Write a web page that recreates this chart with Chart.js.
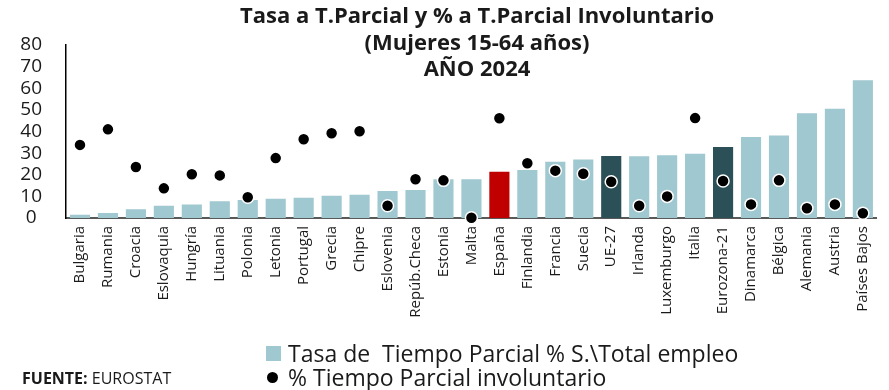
<!DOCTYPE html>
<html lang="es">
<head>
<meta charset="utf-8">
<title>Tasa a T.Parcial y % a T.Parcial Involuntario</title>
<script src="https://cdn.jsdelivr.net/npm/chart.js@4/dist/chart.umd.min.js"></script>
<style>
  html, body { margin: 0; padding: 0; background: #fff; }
  #wrap { position: relative; width: 889px; height: 390px; overflow: hidden; font-family: "Open Sans", sans-serif; color: #1a1a1a; }
  #chart { position: absolute; left: 0; top: 0; }
  #titulo { position: absolute; left: 477px; top: 1px; transform: translateX(-50%); text-align: center; font-weight: 700; font-size: 22px; line-height: 26.5px; white-space: nowrap; }
  #leyenda { position: absolute; left: 266px; top: 341px; font-size: 23px; line-height: 24px; }
  #leyenda .fila { display: flex; align-items: center; white-space: pre; }
  #leyenda .caja { width: 15px; height: 15px; background: #9fc8d0; margin-right: 7px; }
  #leyenda .punto { width: 11px; height: 11px; border-radius: 50%; background: #000; margin: 0 10px 0 1px; }
  #fuente { position: absolute; left: 22px; top: 367px; font-size: 16px; white-space: nowrap; }
</style>
</head>
<body>
<div id="wrap">
  <canvas id="chart" width="889" height="340"></canvas>
  <div id="titulo">Tasa a T.Parcial y % a T.Parcial Involuntario<br>(Mujeres 15-64 años)<br>AÑO 2024</div>
  <div id="leyenda">
    <div class="fila"><span class="caja"></span><span>Tasa de  Tiempo Parcial % S.\Total empleo</span></div>
    <div class="fila"><span class="punto"></span><span>% Tiempo Parcial involuntario</span></div>
  </div>
  <div id="fuente"><b>FUENTE:</b> EUROSTAT</div>
</div>
<script>
// ====== datos ======
const paises = ["Bulgaria","Rumania","Croacia","Eslovaquia","Hungría","Lituania","Polonia","Letonia","Portugal","Grecia",
  "Chipre","Eslovenia","Repúb.Checa","Estonia","Malta","España","Finlandia","Francia","Suecia","UE-27",
  "Irlanda","Luxemburgo","Italia","Eurozona-21","Dinamarca","Bélgica","Alemania","Austria","Países Bajos"];

// tasa de tiempo parcial (% sobre total empleo)
const tasaParcial = [1.5, 2.3, 4.0, 5.7, 6.2, 7.7, 8.3, 8.9, 9.4, 10.3,
  10.8, 12.5, 12.9, 17.9, 17.9, 21.4, 22.2, 26.0, 27.0, 28.7,
  28.5, 29.0, 29.7, 32.8, 37.5, 38.2, 48.4, 50.5, 63.7];

// % tiempo parcial involuntario
const involuntario = [33.8, 41.0, 23.6, 13.7, 20.2, 19.7, 9.6, 27.7, 36.4, 39.2,
  40.1, 5.7, 17.9, 17.4, 0.1, 46.1, 25.3, 21.9, 20.5, 16.8,
  5.7, 10.0, 46.2, 17.1, 6.3, 17.4, 4.5, 6.3, 2.2];

const yTicks = [0, 10, 20, 30, 40, 50, 60, 70, 80];

// ====== colores ======
const claro  = '#9fc8d0';
const oscuro = '#2c5058';
const rojo   = '#c00000';
const colorBarra = p => p === 'España' ? rojo : (p === 'UE-27' || p === 'Eurozona-21') ? oscuro : claro;

const ctx = document.getElementById('chart').getContext('2d');
new Chart(ctx, {
  type: 'bar',
  data: {
    labels: paises,
    datasets: [
      {
        type: 'line',
        label: '% Tiempo Parcial involuntario',
        data: involuntario,
        showLine: false,
        pointRadius: 6,
        pointHoverRadius: 6,
        pointBackgroundColor: '#000',
        pointBorderColor: '#fff',
        pointBorderWidth: 1.5,
        clip: false,
        order: 0
      },
      {
        type: 'bar',
        label: 'Tasa de  Tiempo Parcial % S.\\Total empleo',
        data: tasaParcial,
        backgroundColor: paises.map(colorBarra),
        borderWidth: 0,
        categoryPercentage: 1,
        barPercentage: 0.72,
        order: 1
      }
    ]
  },
  options: {
    responsive: false,
    animation: false,
    layout: { padding: { top: 45, right: 6, left: 0, bottom: 0 } },
    scales: {
      x: {
        grid: { display: false, drawTicks: false },
        border: { color: '#595959', width: 2 },
        ticks: {
          autoSkip: false,
          maxRotation: 90,
          minRotation: 90,
          padding: 8,
          color: '#1a1a1a',
          font: { family: 'Open Sans', size: 15 }
        },
        afterFit: s => { s.height = 122; }
      },
      y: {
        min: 0,
        max: 80,
        grid: { display: false, drawTicks: false },
        border: { color: '#000', width: 1.5 },
        afterBuildTicks: s => { s.ticks = yTicks.map(v => ({ value: v })); },
        ticks: {
          autoSkip: false,
          crossAlign: 'center',
          padding: 24,
          color: '#1a1a1a',
          font: { family: 'Open Sans', size: 19 }
        },
        afterFit: s => { s.width = 66; }
      }
    },
    plugins: {
      legend: { display: false },
      tooltip: { enabled: false }
    }
  }
});
</script>
</body>
</html>
